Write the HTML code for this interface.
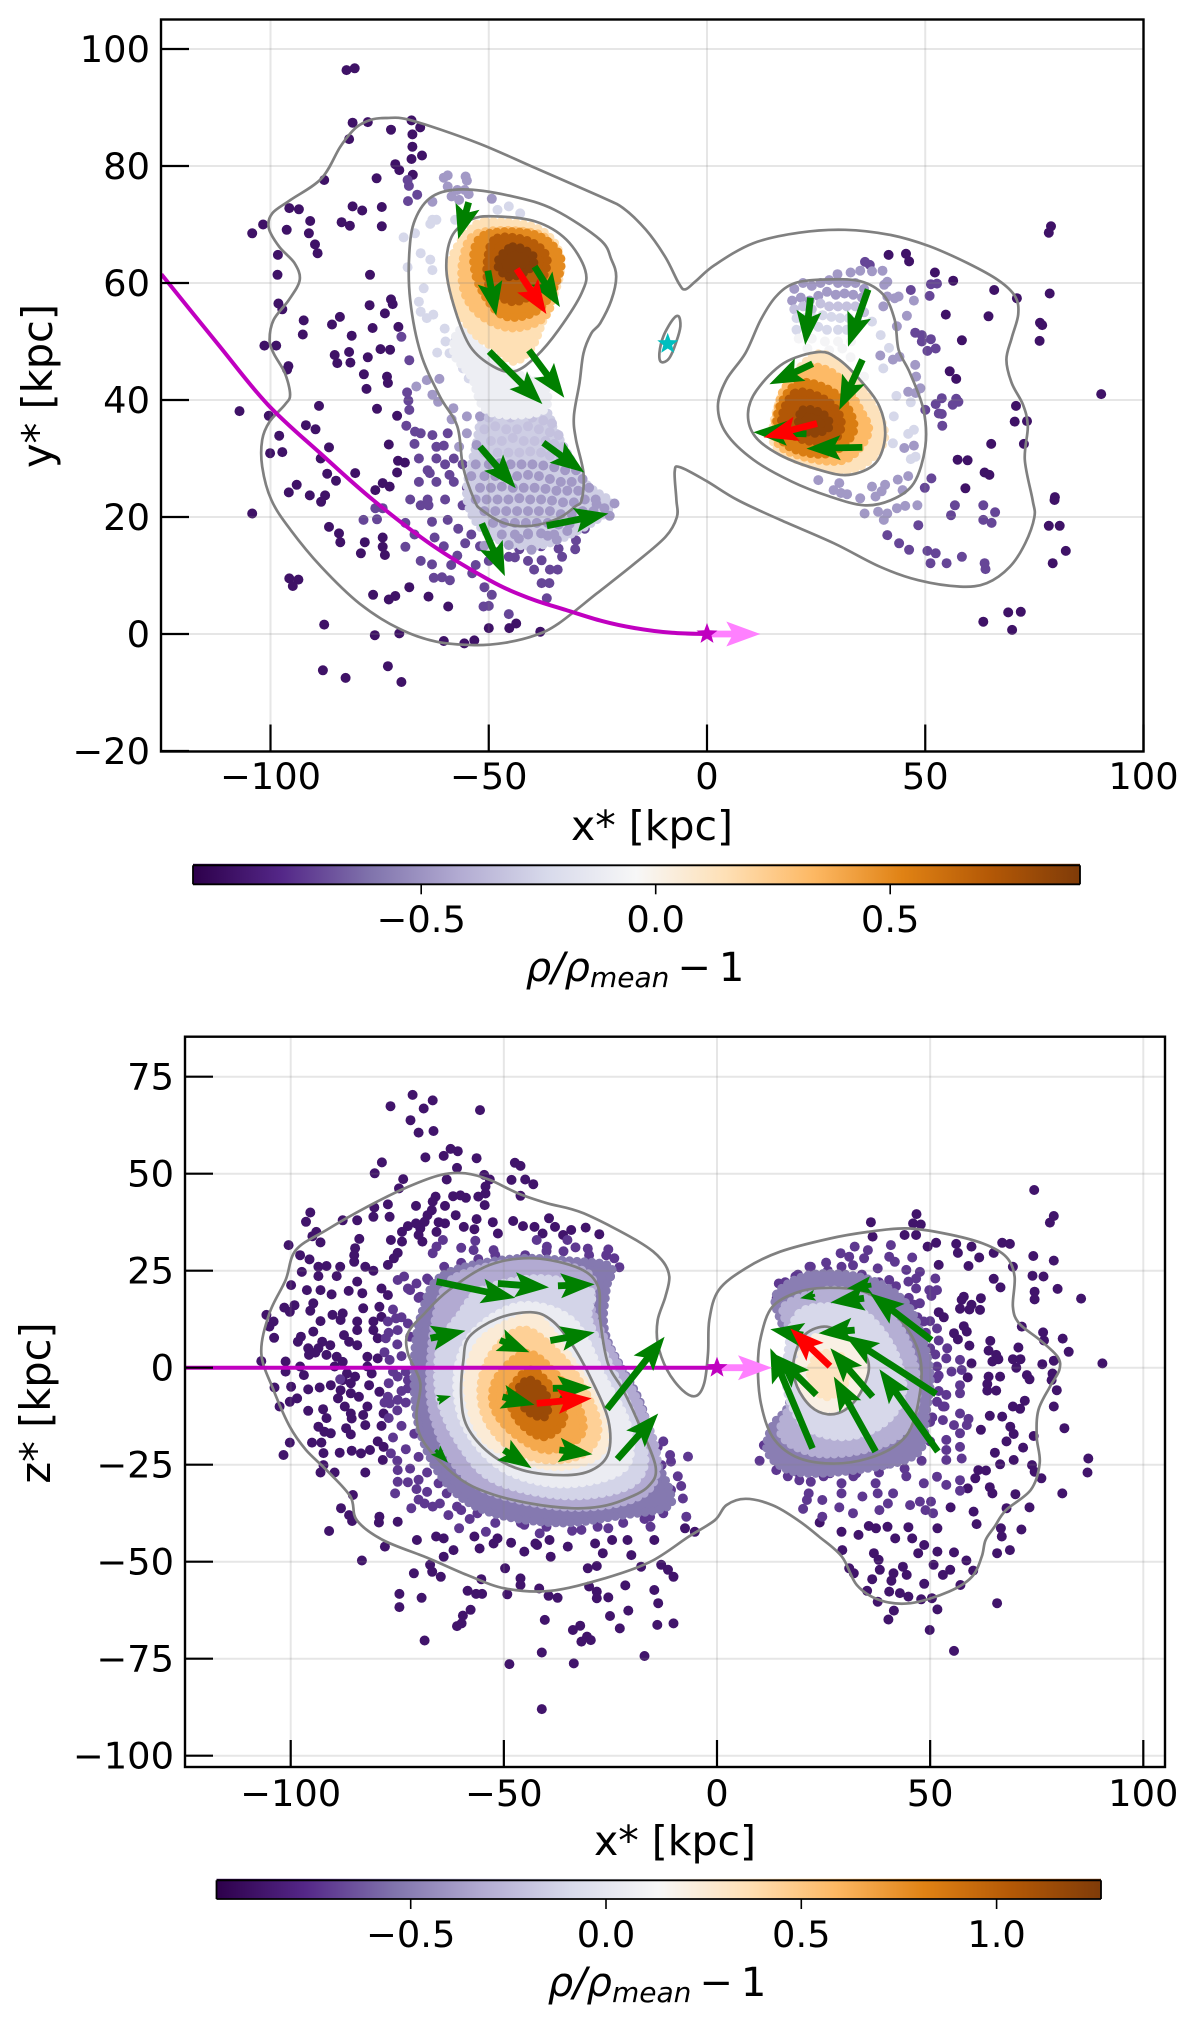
<!DOCTYPE html>
<html lang="en"><head><meta charset="utf-8"><title>Density maps</title>
<style>html,body{margin:0;padding:0;background:#fff}svg{display:block}text{font-family:"DejaVu Sans","Liberation Sans",sans-serif;fill:#000}</style></head>
<body><svg id="fig" xmlns="http://www.w3.org/2000/svg" width="1200" height="2028" viewBox="0 0 1200 2028">
<defs><linearGradient id="puor"><stop offset="0" stop-color="#2d004b"/><stop offset=".1" stop-color="#542788"/><stop offset=".2" stop-color="#8073ac"/><stop offset=".3" stop-color="#b2abd2"/><stop offset=".4" stop-color="#d8daeb"/><stop offset=".5" stop-color="#f7f7f7"/><stop offset=".6" stop-color="#fee0b6"/><stop offset=".7" stop-color="#fdb863"/><stop offset=".8" stop-color="#e08214"/><stop offset=".9" stop-color="#b35806"/><stop offset="1" stop-color="#7f3b08"/></linearGradient></defs>
</svg>
<script>
const xTicks=[-100,-50,0,50,100];
const topYTicks=[-20,0,20,40,60,80,100];
const bottomYTicks=[-100,-75,-50,-25,0,25,50,75];
const topColorTicks=[-0.5,0,0.5];
const bottomColorTicks=[-0.5,0,0.5,1];
const topColorRange=[-0.987,0.905];
const bottomColorRange=[-0.997,1.267];
const colorStops=[[45,0,75],[84,39,136],[128,115,172],[178,171,210],[216,218,235],[247,247,247],[254,224,182],[253,184,99],[224,130,20],[179,88,6],[127,59,8]];

const topOuterContour=[-73.4,88.2,-67.7,87.8,-52.4,83.9,-39.2,79.6,-24.5,74.8,-19.2,72.8,-14,69.1,-9.6,64.5,-6.5,60,-5,58.9,-2.6,60.3,1.8,63.1,10.6,66.8,21.1,68.6,31.6,69.1,42.1,68.2,50.9,66.3,59.7,63.4,66.7,60.5,70.6,57.7,71.3,54.6,69.8,50.6,68.6,46.9,69.8,42.9,72.4,39.2,73.5,35.5,72.8,29.8,74.6,22.9,75,20,72.9,15.5,69.4,11.5,64.1,8.7,58,8.1,48.4,9.2,39.6,11.5,29.1,15.5,16.8,19.5,7,22.9,0,26.1,-6.1,28.5,-7.4,27.8,-7,22.9,-6.9,20,-9.5,16.6,-16.5,12.1,-25.3,6.9,-34,1.8,-39.3,-0.2,-46.3,-1.5,-53.3,-1.9,-62.1,-1.3,-70.8,1,-79.6,5.2,-88.4,11.5,-95.4,17.8,-99.8,22.9,-101.9,28.6,-101.9,33.2,-100.2,36.3,-96.7,39.2,-95.5,40.9,-96.7,44.6,-99.3,48,-100.2,50.3,-99.3,53.7,-95.8,57.1,-93.3,60.5,-94.5,63.4,-98,66.2,-100.4,69.4,-99.6,71.9,-95.4,74.2,-88.3,77.9,-84,83.3,-80.5,86.5,-77,87.9];
const topMidLeftContour=[-55.9,76,-44.5,74.8,-34.9,72.5,-24.5,67.4,-21.9,64,-20.8,61.1,-21.9,57.1,-24.5,53.1,-26.5,51.4,-28.3,48,-29.2,42.9,-30.5,37.2,-30,33.2,-28.3,27.5,-28.7,22.9,-30.2,21.8,-34,19.8,-40.2,18.5,-46.3,18.9,-51.6,21.2,-53.3,22.9,-55.9,28.6,-57.2,35.5,-61.2,40.6,-65.6,48,-68,57.1,-68.2,65.1,-66.9,70.8,-62.9,74.8];
const topInnerLeftContour=[-48.9,71.4,-39.2,70.5,-32.2,67.4,-27.9,62.2,-28.7,58.3,-34,52,-39.2,47.4,-44.1,44.9,-48.9,45.7,-54.2,49.1,-57.7,55.4,-59.7,62.2,-58.5,67.9,-54.2,70.8];
const topMidRightContour=[27.2,60.6,35.1,60.3,40.4,58,43,53.7,43.9,48.6,46.5,44.6,49.6,38.3,50,32,47.4,25.8,42.2,22.9,36,22,28.1,23.5,19.3,26.1,10.6,29.8,4.4,34.3,2.5,38.9,4.4,43.4,8.8,48,12.3,53.7,15.8,57.7,20.2,60];
const topInnerRightContour=[25.5,48.2,29.9,47.1,35.1,43.4,39.5,38.9,40.8,33.8,38.6,29.2,32.5,27.2,25.5,28.1,16.7,30.6,11,33.8,9.4,37.7,11.4,41.7,17.6,46.3];
const topSmallContour=[-6.5,54.3,-7.8,53.8,-10,50.9,-10.9,48,-10.5,46.5,-8.7,47.1,-7,50,-6.1,52.6];

const bottomOuterContour=[-59,50.1,-53.3,48.4,-46.6,44.9,-39.9,42.4,-31.3,39.8,-18.4,32.5,-13,27.8,-11.2,23.5,-12.1,18.3,-13.9,12.3,-13.9,6.3,-11.7,-0.6,-8.1,-5.8,-5,-7.3,-3,-4,-2.1,3.7,-1.8,12.3,0.4,20,6.7,25.6,14.8,29.9,26.5,33.3,35.4,35,44.4,35.9,53.4,34.6,62.4,32,67.8,28.6,69.8,23.5,69.4,15.7,70.9,11.4,75.8,7.1,79.9,2.8,80.3,-0.6,78.1,-4.9,75.4,-10.9,75,-17.8,75.7,-24.6,73.6,-31.5,67.8,-36.7,65.1,-41,63,-44.4,62.1,-48.7,59.8,-53.9,54.4,-57.7,45.4,-60.7,38.2,-59.9,32.8,-56,29.3,-48.7,23.9,-43.5,19,-39.3,13,-35.4,6.7,-33.8,2.2,-35.4,-0.5,-39.3,-6.6,-43.5,-15.6,-50,-26.4,-54.3,-39,-57.5,-49.7,-56.9,-58.7,-53.4,-67.7,-49.1,-78.4,-44.4,-84.5,-39.3,-86,-33.2,-91.6,-26.4,-96.4,-21.2,-100.2,-15.2,-104,-5.8,-106.9,3.7,-105,14,-101.2,22.6,-98.8,30.3,-91.6,35.5,-82,41.5,-72.5,46.6,-64.8,49.7];
const bottomMidLeftContour=[-42.8,28.2,-32.3,25.6,-27.9,20.9,-27.4,12.3,-25.6,1.1,-22,-5.8,-18.4,-14.3,-14.4,-25.5,-16.2,-30.7,-22,-34.1,-27.4,-35.8,-34.2,-36.2,-43.7,-35,-53.3,-32.4,-61,-28.1,-68.6,-19.5,-70.5,-12.6,-69.6,-4,-72.5,3.7,-72.5,8.9,-68.6,14,-62.9,20,-53.3,26.5];
const bottomInnerLeftContour=[-43.7,14.3,-38.9,12.3,-34.2,6.3,-29.4,-3.2,-25.5,-13.5,-25.5,-22.1,-29.4,-26.4,-36,-27.7,-45.7,-26.4,-53.3,-22.1,-58.6,-15.2,-60,-7.5,-59.5,1.9,-58.1,8,-51.4,12.7];
const bottomMidRightContour=[26.5,20.6,34.5,19.6,40.8,14.9,46.2,7.1,48,-1.5,46.2,-13.5,42.6,-19.5,35.4,-23.4,26.5,-24.7,18.4,-22.9,13,-17.8,10.3,-9.2,9.6,0.3,10.3,8,13,15.7,19.3,19.6];
const bottomInnerRightContour=[25.1,10.6,30,8.4,34.5,3.7,35.6,-0.6,33.6,-6.6,30,-10.9,26,-12,22,-10,18.8,-4.9,17.9,1.1,20.2,8];

const topDarkDots=[-82.6,96.4,-80.7,96.7,-81.2,87.4,-77.7,87.5,-72.4,86.2,-67.7,87.8,-65.7,86.6,-67.5,85.4,-82,84.6,-67.5,83.3,-67.7,81.2,-65.3,81.8,-71.4,80.3,-70.5,79.3,-67.4,78.5,-75.7,77.9,-87.7,77.6,-81.2,73.1,-79,72.4,-74.5,73,-95.7,72.8,-93.5,72.6,-90.9,70.6,-83.7,70.4,-81.8,69.8,-74.5,69.7,-101.7,70,-104.2,68.5,-96.3,69.1,-91.2,68.5,-89.8,66.6,-89.2,65.1,-98.3,64.8,-98.4,61.4,-77.2,61.4,-98.2,56.5,-97.3,55.5,-77.3,56.2,-72.4,57.2,-72,56.4,-73.8,54.8,-92.4,53.6,-84.1,54.2,-85.9,52.9,-92.6,51.2,-76.6,52.3,-70.7,52.5,-81.4,51,-101.4,49.3,-98.7,49.3,-74.8,48.7,-72.6,48.6,-82,48.2,-85.3,47.7,-77.7,47.3,-84.7,46.3,-81.7,46.4,-95.9,45.8,-96.2,45.2,-78.6,44.4,-73.3,44,-73.1,42.9,-78,41.9,-107.1,38.1,-88.9,39,-75.6,38.5,-100.4,37.3,-71,37.3,-91.9,35.7,-89.7,35,-98,33.9,-72.9,32.4,-86.6,31.9,-100.1,30.9,-97.3,31.1,-88.5,30,-70.8,29.6,-69.2,29.3,-80.6,27.5,-71,27.6,-87,27.4,-85,26.2,-74.3,25.8,-72.7,25.2,-94,25.5,-95.8,24.2,-91,23.7,-87.5,23.7,-76,24.6,-104.2,20.6,-88.4,22.6,-86.6,18.3,-84.3,17.2,-84,15.7,-79.3,13.8,-78.4,15.7,-74.3,16.5,-74.3,14.9,-73.8,13.5,-95.7,9.5,-93.6,9.3,-94.9,8.2,-87.7,1.6,-76.1,-0.2,-70.5,0.1,-60.3,-1.2,-55.6,-1.6,-53.3,-1.1,-88,-6.2,-82.8,-7.5,-73.1,-5.5,-70,-8.2,-76.5,6.7,-71.4,6.5,-72.9,5.9,-68.2,8,-63.8,6.4,-59.3,4.7,-45.3,1,-50,1,-38.2,0.4,-43.7,1.8,78.8,69.7,78.3,68.6,41.6,64.8,45.6,65,46.3,63.7,52.2,61.8,56.4,60.4,65.8,58.8,71,57.4,78.5,58.2,54.7,54.6,64.5,54.3,76.3,53.2,76.8,52.8,58.4,50.2,76.2,50.1,55.6,44.9,57.1,43.6,90.3,41,70.8,39,70.5,36.3,73.3,36.4,65.1,32.5,72.6,32.5,57.4,29.8,59.7,29.7,63.6,27.6,64.7,27.2,59.2,24.9,79.7,23.4,79.6,22.9,78.3,18.5,80.8,18.5,82.2,14.2,79.2,12.1,63.3,2.1,69,3.7,71.9,3.8,69.9,0.7];
const topMidDots=[-68.7,41.3,-68.4,39.9,-68.2,38.3,-68.9,35.6,-66.9,34.6,-65.6,34.3,-67,32.5,-62.9,34,-59.4,34.3,-62,32,-60.3,32.2,-63.5,27.5,-59,27.2,-76,21.5,-74.3,21.5,-78.7,19.5,-75.6,19.6,-69.1,19,-65.6,22,-63.8,22,-63,19.2,-59.4,19.5,-62.4,16.5,-60.3,15,-55.4,15.5,-57.2,13.4,-69.1,14.9,-65.6,12.5,-63,11.9,-58.6,11.8,-53,11.8,-53.8,10.4,-62.6,9.6,-60.7,9.7,-58.9,9.2,-51.2,4.7,-50,4.8,-51,8,-49.3,6.7,-45.4,3.4,-36.7,6.1,-37.9,8.7,-36.1,8.7,-34.2,11,-39.6,11,-37.9,12.6,-33.2,13.2,-30.2,14.5,-44,13.1,-45.4,13.2,-34,14.6,-68.2,46.8,-70,50.8,-66.4,75.1,-68.5,74,-68.6,77.6,-68.3,76.6,47.7,51.5,49.2,51.1,49.2,50,51.3,50.4,50.5,48.4,52.4,48.8,51.3,59.8,52.7,59.9,51,57.8,46.7,58.8,53.8,40.3,57.1,40.2,52.4,39.3,56.3,39.2,57.6,39.7,50,38.3,53.1,37.7,53.8,37.6,53.9,35.6,51.4,26.6,49.9,25,56.8,22,55.9,20.3,63.3,22,66,20.8,63.3,19.5,65.2,19,48.4,18.6,41.3,16.9,44,15.5,46.3,14.4,50.5,14.2,52.4,13.8,58.4,13.2,51.2,12.1,54.9,12.1,63.6,12.1,63.8,11.1,36.2,63.6,37.3,63.1,-66,30,-64,28,-62,30,-60,29,-58,30,-56,29,-66,26,-62,26,-58,26,-55,25,-68,23,-64,23,-60,23,-56,22,-67,17,-57,18,-54,17,-52,15,-48,14,-43,14.5,-38,15,-30,16,-28,18,-50,12.5,-41,12.5,-36,11];
const topLavDots=[-60.3,78,-59.4,78.4,-55.3,78.2,-55,77.5,-59.4,76.5,-57.2,75.9,-58.5,74.8,-56.8,74.2,-55.5,75.9,-54.6,75.2,-64.2,43.4,-61.3,43.6,-66.6,42.3,-62.9,40.9,-61.6,39.7,-58.1,38.6,-58.5,36.7,-55,37.2,-52,37.2,-55,34.3,-56.8,32,-52.8,32.3,-36.5,16.8,-34.4,16.1,-32,17.6,-25.3,22.2,-21.2,22.3,-22.3,20.2,-51,15.1,-45.4,15.2,-43.1,16.3,-41,17.2,-40.2,14.4,35.1,62.1,37.8,62,40.2,62.1,32.9,61.8,29.9,61.5,41.3,60.2,40.6,59.7,47.4,57,43,57.4,41.3,57.7,43.9,57.7,40.4,56,45.8,54.4,43.5,52.6,39.7,47.6,42.6,46.9,44.1,47.4,47.7,46,47.9,44,48.9,42,46.1,41.4,47.8,41.2,45.2,31.8,47.4,32.2,46.1,27,43.7,26.4,36.1,20.6,39.2,20.9,41.3,20.6,40.5,19.5,43.5,21.5,45.4,21.9,48.2,22,25.5,26.3,29,24.6,30.7,24.1,32.1,23.9,30.3,25.8,35.1,23.2,37.8,25.2,38.6,23.5,40,24.4,40.8,25.5,44.8,24.6,-62.9,73.9,-49.3,74.4,-53,29,-50,29,-47.5,29.2,-45,29,-42.5,29,-40,29,-37.5,28.8,-35,28.5,-32.5,28,-30,28,-54,27,-51,27,-48.5,27,-46,27,-43.5,27,-41,27.2,-38.5,27,-36,26.5,-33.5,26,-31,26,-28.5,26.5,-52,25,-49.5,25,-47,25.2,-44.5,25,-42,25,-39.5,25,-37,24.8,-34.5,24.5,-32,24.5,-29.5,24.5,-27,25,-53,23,-50.5,23,-48,23,-45.5,23,-43,23.2,-40.5,23,-38,23,-35.5,22.8,-33,22.5,-30.5,22.5,-28,23,-25.5,23,-51,21,-48.5,21,-46,21,-43.5,21,-41,21,-38.5,21,-36,21,-33.5,20.5,-31,20.5,-28.5,21,-26,21,-23.5,21.5,-49,19,-46.5,19,-44,19,-41.5,19,-39,19,-36.5,19,-34,18.7,-31.5,18.8,-47,17,-44,17,-41,17,-38,17.2,-35,17,20,59,22,60,24,59.5,26,60,28,60.5,30,60,32,60,34,60,36,59,19.5,57,21.5,57.5,23.5,57,25.5,57.8,27.5,58.5,29.5,58,31.5,58.2,33.5,58,35.5,57.5];
const topPaleLavDots=[-50,37,-47.5,37.5,-45,37,-42.5,37.5,-40,37,-37.5,36.5,-35.5,36,-51,35,-48.5,35.5,-46,35,-43.5,35,-41,35.5,-38.5,35,-36,34.5,-34,34,-49.5,33,-47,33,-44.5,33.5,-42,33,-39.5,33,-37,33,-35,32.5,-33,32,-51,31,-48,31,-45.5,31,-43,31,-40.5,31.2,-38,31,-36,30.5,-33.5,30,-31.5,30,20,55.5,22,56,24,55.5,26,56.5,28,56,30,56,32,56,34,56,36,55];
const topLightDots=[-68.6,62.7,-69.5,67.8,-66.9,68.5,-65.6,65.1,-63.4,64,-62.9,62.2,-64.9,59.1,-66,56.8,-65.6,55.1,-64.2,54,-62.7,54.6,-60.1,52.2,-59.9,50,-57.7,50,-61.8,48.1,-59,48,-55.5,47.4,-55.9,45.4,-54.6,43.7,-52.8,43.2,-51.5,40.6,-62.9,70.8,-63.4,70.1,-62,70.8,-57.7,70.8,-45.4,73.1,-48,72.5,-42.8,71.9,43.4,40.7,46.7,39.6,42.8,37.2,47.4,34.9,46.1,34.2,42.6,32.6,47.8,30.3,46.7,29.9,37.8,53.4,39.8,51.1,41.7,48.9,40.4,45.4,20.5,54,22.5,54,24.5,54,26.5,54.5,28.5,54.2,30.5,54,32.5,54,34.5,53.5,20.5,52,23,52.3,25.5,52.5,27.5,52,30,52,32,52,34,52];
const topPaleDots=[21,50.5,24,50.5,27,50,30,50,33,50,23,48.8,28,48.5,31,48.8,32.9,47.3,36,44];
const topBandB=[-50,38,-37.4,38,-35,35,-28,26,-22,22,-30,17.5,-40,15,-50,17,-55,23,-53,32];
const topBandC=[-56,52,-48,46,-42,44,-37,42,-38,38,-50,38,-54,44,-58,48];
const topLeftCoreA=[-50.6,70.5,-40.1,69.7,-34.9,66.8,-33.5,62.8,-34.9,58.3,-37.5,53.7,-40.1,49.1,-44.1,46.6,-48,48.6,-53.3,51.4,-57.2,56,-59,62.2,-57.2,66.2,-54.2,69.1];
const topLeftCoreB=[-52.4,68.5,-39.2,68.5,-34.9,65.1,-34.9,60,-37.1,54.3,-44.5,52.3,-51.5,54.3,-55.5,58.3,-55.9,64];
const topLeftCoreC=[-49.8,68.5,-39.2,68.2,-33.5,64.2,-35.7,58.3,-40.1,54.8,-47.1,54.6,-52.4,60,-53.3,65.7];
const topLeftCoreD=[-48,67.7,-40.6,67.1,-36.6,64,-39.2,58.8,-44.5,56.8,-49.8,59.4,-50.2,64.5];
const topLeftCoreE=[-44.5,66.2,-39.7,64.5,-41,62.2,-45.4,61.1,-48,63.4];
const topRightCoreA=[25.5,47.9,29.9,46.3,35.1,42.3,40.4,35.5,39.5,31.5,33.4,28.1,25.5,28.6,17.6,30.9,15,33.8,16.7,40,20.2,44.6];
const topRightCoreB=[23.7,45.7,29.9,44,35.1,38.3,36.9,34.3,31.6,29.8,22,30.3,15.8,33.2,16.7,40,19.3,43.4];
const topRightCoreC=[21.1,42.9,28.1,41.7,32.5,38.3,33.4,34.3,28.1,30.9,20.2,31.5,16.3,34.3,16.7,38.9];
const topRightCoreD=[20.2,41.2,27.2,40,30.7,36.6,29,33.2,22,33.2,17.1,36.1];
const topRightCoreE=[22,38.3,26.4,37.7,28.1,35.5,24.6,34.3,21.1,35.5];

const bottomDarkDots=[-71.4,70.3,-66.7,68.9,-76.6,67.4,-68.8,66.8,-55.6,66.4,-71.9,63.8,-70,60.6,-66.5,61,-62.5,56.4,-60.8,55.8,-64.1,54.6,-68.4,54.2,-56.4,54,-78.6,52.9,-80.3,50.1,-61,51.5,-47.4,52.8,-46.1,52,-54.6,49.7,-63.4,48.5,-53.3,48.5,-48.2,48.4,-45,48.5,-43.1,47.3,-73.6,48.6,-74.6,46.2,-54.3,46.7,-54.3,44.9,-61.9,44.2,-60.2,44.4,-58.9,43.8,-56,44.1,-66,44.1,-66.7,42.8,-46.1,44.3,-54.5,41.9,-77.2,42.1,-80.4,41.3,-70.6,41.7,-63.8,41.7,-66.9,40.6,-67.9,39.3,-95.4,40,-76.8,38.9,-80.6,38.9,-61.3,39.3,-96.4,37.6,-87.8,38,-84.4,38,-56.4,38.3,-52.6,37.5,-47.8,37.8,-39.4,38.5,-70.6,37.2,-68.6,37.6,-65.3,37.5,-63.8,37.2,-72.5,36.5,-69.6,35.9,-59.4,36.3,-45.5,36.5,-42.8,36.3,-38,36.3,-30.8,36.1,-56.9,35.7,-94,35,-94.9,33.9,-73.9,35,-70,34.2,-65.8,35,-51.4,34.6,-40.9,34.6,-36.1,34.2,-34.2,35.5,-27.6,34.4,-83.9,33.2,-76.5,32.9,-93,32.3,-73.9,32.5,-69.1,32.5,-100.5,31.6,-84.9,30.8,-74.9,29.6,-97.8,29,-85.1,29,-75.8,28.2,-77.2,26.5,-95.6,27.9,-85.1,27.3,-93.5,26,-91.6,26.2,-88.4,26,-82.5,26,-80.6,25,-97.4,24.7,-89.2,23.6,-93.5,23.6,-84.4,22.2,-99.9,21.3,-96.2,20,-93,20,-86.4,19.8,-83.2,19.2,-90.4,18.9,-77.2,18.7,-78.7,20.4,-94.7,16.6,-101.5,15.5,-99.1,16.1,-100.2,14.4,-95.4,14.7,-105.7,13.6,-83,15.3,-79.2,15.7,-78.7,13.1,-90.2,13.6,-87.8,14,-88.3,12.3,-93,12,-84.4,11.9,-104,11.9,-105,10.6,-84.4,9.7,-94.7,9.3,-80.6,11.9,-80.6,9.7,-79.6,7.6,-103.9,7.7,-97.6,8,-98.3,6.7,-87.5,8.4,-86.3,6.7,-84.4,5.8,-92.6,6.7,-90.7,5.8,-93.5,5,-95.9,5,-95.7,3.3,-94.2,3.9,-91.6,3.3,-89.2,2.8,-87.8,1.5,-82,2.8,-79.6,2.4,-106.9,1.7,-101.2,1.6,-97.8,0.3,-96.9,-1.9,-101.2,-1,-89.7,0.3,-86.8,-1.5,-82,0.3,-81,-1.5,-84.9,-2.3,-87.8,-3.2,-81.6,-4.5,-103.8,-5.1,-99.9,-4.9,-95.9,-5.6,-93.2,-5.1,-90.6,-4.5,-85.9,-4,-88.3,-5.8,-85.9,-6.6,-84,-7.5,-79.2,-6.2,-98.5,-7.9,-100.2,-8.8,-88.9,-7.9,-102.6,-10,-87.3,-10,-82,-10,-95.9,-11.1,-92.4,-10.7,-85.9,-11.8,-83,-12.2,-78.2,-11.8,-91.6,-13,-85.7,-13.1,-82.5,-14.8,-78.7,-15,-93.5,-15.2,-87,-15.6,-92.1,-16.5,-90.6,-16.9,-85.9,-17.2,-100.2,-19.3,-95,-19.3,-92.8,-19.3,-79.6,-19,-78.2,-20.4,-81.4,-21.2,-85.7,-21.4,-88.5,-21.9,-92.3,-22,-101.7,-22.5,-83.5,-22.1,-78.4,-23.8,-92.3,-25.1,-89.7,-27,-93,-27,-82.5,-27,-85.4,-32.8,-88.2,-36.2,-86.3,-38,-79.2,-38.4,-91,-42.1,-83.3,-49.7,-77.9,-46.1,-85.6,-39.5,-79.3,-39.9,-74.9,-39.7,-70.4,-44.4,-65.9,-43.5,-64.1,-44,-64.1,-48.7,-61.8,-47,-71.1,-53,-67.3,-50.8,-66.8,-52.6,-64.8,-53.9,-55.3,-54.5,-58.5,-57.5,-56.5,-58.3,-55.1,-58.3,-74.5,-58.3,-69.3,-59.3,-74.5,-61.7,-59.6,-63.9,-57.8,-62.4,-61,-66.6,-59.9,-65.9,-68.6,-70.3,-49.2,-58.4,-49.7,-51.7,-46.1,-54.3,-46.1,-56,-41.7,-56.9,-39.5,-58.8,-37.4,-59.3,-40.4,-65,-25.1,-64,-20.8,-62.6,-22.8,-67.2,-13.8,-60.7,-14.7,-57.3,-21.5,-56.1,-30,-56.4,-28.2,-57.7,-28.2,-59.4,-25.5,-59.2,-32.1,-66.5,-33.8,-67.6,-30.5,-69.3,-29.6,-70.2,-31.8,-70.6,-14,-66.3,-10.2,-65.9,-41.1,-73.4,-33.6,-76.2,-48.7,-76.4,-17,-74.3,-41.1,-88,-13.1,-50.8,-11.5,-52.1,-10.2,-53.9,-17.8,-51.3,-30.3,-51.7,-28.2,-51.1,-45.2,-47.4,-42.2,-45.7,-39,-48.7,-35,-46.1,-26.8,-47.8,-20.1,-48.3,-24.6,-44.4,-21,-44.4,-14.7,-44.4,-7.5,-41.4,-5.2,-42.3,-28.6,-45.3,-48.3,-45.1,-52.4,-45.3,-55.7,-46.6,-51.5,-44,-56.9,-43.5,-42.6,-45.3,-39.3,-44.4,41.8,-44,45.8,-44,48.6,-45.7,51.7,-41.4,60.9,-40.3,29.4,-47,36.8,-47.8,37.9,-49.5,47.2,-47.8,51.7,-47.4,55.6,-47.6,58.5,-49.7,66.6,-41.4,66.8,-43.5,71.4,-41.7,65.7,-47.8,68.7,-47,31,-51.7,32.1,-53,38.2,-52.1,36.4,-54.5,41.4,-53,43.6,-51.3,44.5,-53.4,40.9,-54.9,48.6,-55.7,50.8,-50.8,54.7,-52.1,53,-53.4,60.1,-52.3,57.1,-56,35.2,-57.5,40.4,-57.7,42.9,-58.1,44.9,-59,47.9,-59.7,50.4,-59.4,37.7,-60.3,41.5,-62.6,40.2,-64.9,51.7,-62.3,65.7,-60.7,49.9,-67.6,55.6,-73,74.4,45.8,79,39.1,78.1,37.4,46.8,39.6,36.1,37.5,46,37.2,47.8,36.9,36.5,33.8,44,34.2,46.7,34.2,51.4,32.2,49.4,31.2,66.9,32.2,68.7,31.9,56.1,31.9,59.7,31.2,56.5,29.6,64.9,29.6,74.2,28.8,79,27.6,61.5,28.4,52,26.5,59,26.2,69.4,26,74,23.7,76.6,23.5,64.9,22.9,66.5,20.7,79.9,20.3,74.5,19.6,74.5,17.6,85.4,17.8,57.9,18.3,61.9,17.9,57.4,17.5,59.7,16.2,57,15.2,59.2,15,61.7,14.9,52,14.3,53.2,13,57.9,10.7,71.5,10.6,55.6,8.9,58.6,9.3,56.5,7.3,76.5,9.1,76.7,7,81.1,7.5,64.1,6.9,59.2,5.7,70.7,5.2,82.5,4.1,63.7,4.4,65.5,3.3,64.6,1.6,66,2.2,69.4,2.2,71.2,2.2,90.4,1.1,59.7,1.1,76.3,0.9,79,1.8,70.2,0,58.8,-2.5,72.7,-1.9,73.3,-3,63.7,-2.3,66.4,-2.3,78.7,-1.5,78.5,-3.2,63.4,-4.2,63.4,-5.9,65.5,-5.9,79.7,-5.8,72.2,-8.5,69.4,-10,71.1,-10.6,79,-10,64,-12.4,66.9,-12.6,68.8,-15.2,81.5,-15.6,61.9,-16,69.6,-17.1,74.3,-17.6,67.9,-19,71.8,-20.6,65.2,-21.9,87.1,-23.4,69.6,-23.8,66.4,-24.9,73.9,-25.1,86.9,-27,74.5,-26.8,61.3,-26.4,63.1,-26.5,76.1,-28.5,60.6,-28.5,64,-30.8,58.8,-31.1,64.6,-32.4,70,-32.6,81,-32.4,73.3,-36,67.9,-36.2,60.2,-37.1,54.8,-36,24.1,-39.9,29.2,-42.3,33.2,-43.1,35.6,-40.8,37.3,-41.4,40,-41,44.9,-41.1];
const bottomMidDots=[-60.5,-41.4,-54.2,-42.3,-45.2,-40.5,-41.6,-42.7,-31.8,-41.8,-25.5,-41.4,-15.6,-41,-88.4,-3,-72.5,-3.2,-74.9,-2.3,-76.8,2,-72.5,-5.3,-77.2,-7.5,-74.9,-8.3,-76.8,-9.2,-76.5,-22.1,-74.9,-26.4,-74.9,-29.4,-72.5,-29.5,-70,-28.9,-75.5,-32.4,-70.5,-31.3,-71.7,-36.2,-68.6,-35,-66.7,-35.8,-61,-35.8,-56.2,-37.5,-65.3,-29.8,-63.4,-32.4,-60,-36.7,-53.3,-36.7,-48.5,-37.5,-42.8,-37.1,-37,-38.4,-30.3,-38.4,-24.6,-37.5,-19.8,-36.7,-74.9,22.6,-73.4,23.5,-72.5,20.4,-70.5,21.7,-67.7,22.6,-69.6,18.3,-77.2,11.9,-75.3,12.7,-72.5,11.4,-74.9,9.7,-77.7,7.6,-65.8,31.2,-60,30.9,-57.1,30.3,-52.4,30.3,-39.9,31.2,-33.2,31,-30.3,30.7,-25.5,30.5,-66.7,29.5,-24.1,28.2,-22.9,25.9,-25.1,23.5,-64.3,32.9,-56.7,32.7,-42.3,32.9,-35.1,32.9,-12.6,-19,-13.9,-20.4,-11,-22.5,-10.8,-24.2,-6.8,-22.9,-13,-25.1,-9.2,-28,-8.4,-30.5,-8,-33.7,-10.8,-31.5,-13,-33.2,-12.1,-35.4,-15.7,-38.4,-7.2,-38.4,-12.6,-37.5,-22,-37.5,-19.8,-36.7,-16.6,-34.5,35.4,30.3,40.8,31.6,32.3,31.2,29,29.5,31,28.6,34.5,28.2,40.4,28.6,45.8,28.4,29.2,26,31.9,26.4,25.6,27.1,21.7,26,37.7,25.6,41.7,27.3,44.4,25.2,47.6,24.7,51.2,23,18.4,23.5,14.5,21.7,40.4,22.6,44.9,22.2,46.7,23,49.8,20,51.6,20,46.7,20.4,50.3,18.5,47.6,16.6,46.2,16.2,48.5,11.9,51.6,10.1,51.2,3.4,53.8,2.4,51.6,0.3,57.4,-0.6,51.6,-2.7,57,-4.5,53.8,-7,57,-6.6,51.6,-8.8,53.4,-10,57,-11.8,50.5,-12.8,53,-13.5,59,-13.2,55.6,-14.8,58.6,-14.8,57,-16.9,53.8,-18.6,57,-20.4,53.8,-21.2,57.4,-23.4,53.8,-23.8,51.6,-28.1,57,-29,53.8,-30.2,57,-31.7,13.9,-26.4,16.6,-28,19.3,-29,22,-29.4,26.5,-27.2,29.2,-29.8,32.7,-27.2,37.2,-29.8,39.9,-24.7,44.4,-28,48.5,-29.8,21.5,-32.4,21.1,-34.1,24.7,-34.1,29.2,-32.4,34.1,-33.2,37.7,-32.4,41.3,-32.4,20.2,-36.4,28.7,-36,31.9,-37.5,38.1,-36.7,40.1,-35,45.3,-35.4,47.6,-34.5,50.2,-34.5,24.7,-38.4,48.9,-36.7,50.7,-37.5,-76,15,-74,13,-77,9,-75,6,-72,8,-78,4,-74,3,-76,-1,-73,-1,-77,-4,-74,-6,-78,-9,-75,-11,-73,-9,-77,-13,-74,-15,-71,-17,-76,-18,-73,-21,-70,-23,-75,-24,-72,-26,-68,-27,-68,-32,-65,-35,-70,-34,-63,-38,-58,-39,-52,-40,-46,-40,-40,-41,-34,-42,-28,-41,-22,-40,-17,-39,-70,18,-72,20,-66,20,-68,23,-64,26,-60,27,-56,28,-52,29,-45,29,-40,30,-36,30,-30,29,-26,29,48,3,50,5,52,7,54,5,48,-3,52,-2,55,-1,57,2,49,-8,52,-6,50,-14,53,-10,47,-18,50,-19,48,-24,44,-26,38,-27,32,-28,25,-28,19,-27,14,-24,11,-20,10,-24,16,22,19,24,22,26,26,25,30,24,34,24,38,22,42,21,45,18,14,18,16,16,47,13,50,12,49,9];
const bottomLeftBandA=[-64,24,-48.5,28,-34,27.5,-25,26,-26,20,-26,8,-18,-9,-15,-22,-11,-32,-12,-36,-22,-38,-37,-40,-54,-37,-64,-29,-70,-15,-71,2,-69,15];
const bottomLeftBandB=[-61,23.5,-45.6,27.3,-30.3,24.3,-29.4,14.9,-24.6,3.7,-18,-10,-14,-24,-18,-33,-34,-36,-53,-32,-62,-24,-67,-10,-67,5,-65,17];
const bottomLeftBandC=[-55,20,-42,23,-30,20,-30,12,-24,-2,-19,-15,-17,-25,-22,-31,-36,-33,-52,-29,-60,-20,-65,-8,-65,5,-60,14];
const bottomLeftBandD=[-46,16,-34,12,-27,-2,-21,-15,-22,-26,-36,-30,-50,-26,-59,-15,-61,-2,-57,9];
const bottomLeftBandE=[-44.7,13.1,-39.9,10.6,-30.3,-4.9,-26.5,-15.2,-27.5,-22.1,-36,-25.5,-45.6,-23.8,-54.3,-18.6,-58.1,-9.2,-58.1,0.3,-54.3,8];
const bottomLeftBandF=[-44.7,9.7,-36,2,-30.3,-7.5,-27.9,-16,-31.3,-22.1,-39.9,-23.8,-48.5,-20.4,-54.3,-12.6,-55.2,-3.2,-51.4,5.4];
const bottomLeftBandG=[-44.7,3.7,-38,-1.5,-32.2,-10.9,-32.2,-17.8,-39.9,-21.2,-47.6,-16.9,-52.4,-10,-51.4,-2.3];
const bottomLeftBandH=[-43.7,-0.6,-38,-6.6,-36,-13.5,-40.8,-17.8,-46.6,-13.5,-48.5,-6.6];
const bottomLeftBandI=[-43.7,-3.2,-39.9,-7.5,-40.4,-12.6,-44.7,-10.9,-46.6,-5.8];
const bottomRightBandA=[14,19,22,24,35,23,44,17,48,8,50,-2,49,-12,47,-22,35,-26,19,-27,12,-22,13,-15,17,-9,18,5,15,12];
const bottomRightBandB=[16,16,26.5,20,37,17,44,8,47,-4.9,44,-16,35,-21,23,-22,15,-17,18,-7,18,5,17,10];
const bottomRightBandC=[19.3,14,28.3,15.7,35.4,13.2,41.7,3.7,43.5,-6.6,39,-14.3,30,-17.8,21.1,-15.2,16.6,-6.6,16.6,3.7];
const bottomRightBandD=[25.6,8.4,31,7.1,34.5,1.1,32.7,-6.6,26.5,-10.9,21.1,-7.5,19.3,0.3,21.1,6.3];
const bottomRightBandE=[25.6,3.7,30,2,30,-4,25.6,-7.5,22,-3.2,22.9,2];

const trajectoryX=[-125,-112,-100.6,-88,-76.5,-63,-49.8,-41,-32.3,-24,-16.5,-8,0];
const trajectoryY=[61.5,49.5,39.2,30.5,22.9,15.2,9.2,6.2,4.1,2.2,1,0.2,0];
const bottomTrajectoryX=[-125,0];
const bottomTrajectoryY=[0,0];
const topGreenTailX=[-54.6,-50.2,-39.5,-49.9,-40.8,-52,-37.5,-51.6,-36.7,23.7,36.9,24.2,35.6,22.8,35.6];
const topGreenTailY=[73.8,62.1,62.8,48.3,48.5,32,32.7,18.9,18.5,57.5,58.9,46.2,46.9,34.2,31.9];
const topGreenTipX=[-57,-48.3,-33.7,-37.7,-32.7,-43.8,-28.1,-46.3,-22.6,22.5,32.3,14.3,30.3,10.6,22.8];
const topGreenTipY=[67.5,54.4,55.9,39.3,40.4,24.9,27.6,9.9,20.6,49.4,49.1,42.7,38.3,34.5,31.7];
const topRedTailX=[-43.6,25.2];
const topRedTailY=[62.4,36];
const topRedTipX=[-36.8,13];
const topRedTipY=[54.7,33.6];
const bottomGreenTailX=[-65.8,-51.4,-37.3,-67.2,-39.1,-50.9,-50.3,-38.5,-65.6,-50,-37,-66,-25.8,-23.4,22.4,37.2,23.3,36.5,20.2,32.3,51.4,51.8,50.3,34.5,36.2,23];
const bottomGreenTailY=[22.2,21.7,21.1,7.6,7,7.1,-7.5,-5.3,-8.3,-21.2,-21.2,-21.2,-10.7,-23.6,-20.8,-21.6,-7,-7.5,8.4,9.7,-6.8,-21.6,7.1,17.9,21.3,18.7];
const bottomGreenTipX=[-47.3,-39.4,-28.7,-59,-28.7,-44,-42.8,-29.4,-62.4,-43.5,-29.2,-63.1,-12.3,-13.8,12.5,27.4,13.9,26.6,12.5,23.8,30,38.1,35.9,26.6,30.5,19.5];
const bottomGreenTipY=[18,20.7,21.5,9.5,9.1,4,-9.6,-5.1,-7.3,-25.9,-22.3,-24.5,8,-11.8,5,-2.3,3.3,5,9.9,8.9,8.4,-0.4,19.2,16.8,20.4,17.9];
const bottomRedTailX=[-42.3,26.5];
const bottomRedTailY=[-9.2,0.4];
const bottomRedTipX=[-29.4,17.2];
const bottomRedTipY=[-7.9,10.1];
const motionTailX=[0];
const motionTailY=[0];
const motionTipX=[12.2];
const motionTipY=[0];
const bottomMotionTipX=[12.9];
const cyanStarX=[-9];
const cyanStarY=[49.6];
const magentaStarX=[0];
const magentaStarY=[0];

const SVG='http://www.w3.org/2000/svg';
const fig=document.getElementById('fig');
function node(tag,attrs,parent){const e=document.createElementNS(SVG,tag);for(const k in attrs)e.setAttribute(k,attrs[k]);(parent||fig).appendChild(e);return e;}
function colormap(t){t=Math.max(0,Math.min(1,t))*10;const i=Math.min(9,Math.floor(t)),f=t-i,a=colorStops[i],b=colorStops[i+1];return 'rgb('+[0,1,2].map(k=>Math.round(a[k]+(b[k]-a[k])*f)).join(',')+')';}
function smooth(pts,closed){const n=pts.length;let d='M'+pts[0][0].toFixed(1)+' '+pts[0][1].toFixed(1);const g=i=>closed?pts[(i+n)%n]:pts[Math.max(0,Math.min(n-1,i))];for(let i=0;i<(closed?n:n-1);i++){const p0=g(i-1),p1=g(i),p2=g(i+1),p3=g(i+2);d+=' C'+(p1[0]+(p2[0]-p0[0])/6).toFixed(1)+' '+(p1[1]+(p2[1]-p0[1])/6).toFixed(1)+' '+(p2[0]-(p3[0]-p1[0])/6).toFixed(1)+' '+(p2[1]-(p3[1]-p1[1])/6).toFixed(1)+' '+p2[0].toFixed(1)+' '+p2[1].toFixed(1);}return d+(closed?'Z':'');}
function pairs(flat,sx,sy){const o=[];for(let i=0;i<flat.length;i+=2)o.push([sx(flat[i]),sy(flat[i+1])]);return o;}
function arrowPoly(x0,y0,x1,y1){const L=Math.hypot(x1-x0,y1-y0)||1,ux=(x1-x0)/L,uy=(y1-y0)/L,nx=-uy,ny=ux;const k=Math.min(1,L/34),w=3.4*k,hw=12.5*k,hl=34*k,ax=29*k;const p=(a,b)=>(x0+ux*a+nx*b).toFixed(1)+','+(y0+uy*a+ny*b).toFixed(1);return [p(0,-w),p(L-ax,-w),p(L-hl,-hw),p(L,0),p(L-hl,hw),p(L-ax,w),p(0,w)].join(' ');}
function starPoly(cx,cy,r){const o=[];for(let i=0;i<10;i++){const a=-Math.PI/2+i*Math.PI/5,q=i%2?r*.42:r;o.push((cx+q*Math.cos(a)).toFixed(1)+','+(cy+q*Math.sin(a)).toFixed(1));}return o.join(' ');}

function drawPanel(c){
 const sx=v=>c.x0+v*c.xs, sy=v=>c.y0-v*c.ys;
 const norm=v=>(v-c.range[0])/(c.range[1]-c.range[0]);
 c.layers.forEach(l=>{
  const col=colormap(norm(l.value));
  if(l.band){
   const pts=pairs(l.band,sx,sy);
   const el=node('path',{d:smooth(pts,true),fill:col,stroke:col,'stroke-width':9,'stroke-linecap':'round','stroke-dasharray':'0 7.5'});
   
   
  }else{
   pairs(l.dots,sx,sy).forEach(p=>{
    const el=node('circle',{cx:p[0].toFixed(1),cy:p[1].toFixed(1),r:5,fill:col});
    
    
   });
  }
 });
 xTicks.forEach(t=>{const g=node('line',{x1:sx(t),x2:sx(t),y1:c.top,y2:c.bottom,stroke:'#808080','stroke-opacity':.2,'stroke-width':2});
  
  });
 c.yTicks.forEach(t=>{const g=node('line',{x1:c.left,x2:c.right,y1:sy(t),y2:sy(t),stroke:'#808080','stroke-opacity':.2,'stroke-width':2});
  
  });
 c.contours.forEach(k=>{const el=node('path',{d:smooth(pairs(k,sx,sy),true),fill:'none',stroke:'#808080','stroke-width':2.7});
  
  });
 const tr=c.trajX.map((v,i)=>[sx(v),sy(c.trajY[i])]);
 const line=node('path',{d:smooth(tr,false),fill:'none',stroke:'#c000c0','stroke-width':4});
 
 
 const arrows=(tx,ty,hx,hy,col,name)=>tx.forEach((v,i)=>{const a=node('polygon',{points:arrowPoly(sx(v),sy(ty[i]),sx(hx[i]),sy(hy[i])),fill:col});
  
  });
 arrows(c.greenTX,c.greenTY,c.greenHX,c.greenHY,'#008000',c.prefix+'-velocity-arrow');
 arrows(c.redTX,c.redTY,c.redHX,c.redHY,'#ff0000',c.prefix+'-mean-velocity-arrow');
 arrows(motionTailX,motionTailY,c.motionX,motionTipY,'#ff80ff',c.prefix+'-motion-arrow');
 const st=node('polygon',{points:starPoly(sx(magentaStarX[0]),sy(magentaStarY[0]),11),fill:'#c000c0'});
 
 
 if(c.cyan){const s2=node('polygon',{points:starPoly(sx(cyanStarX[0]),sy(cyanStarY[0]),11),fill:'#00bfbf'});
  
  }
 const frame=node('rect',{x:c.left,y:c.top,width:c.right-c.left,height:c.bottom-c.top,fill:'none',stroke:'#000','stroke-width':2.4});
 
 
 xTicks.forEach(t=>{const m=node('line',{x1:sx(t),x2:sx(t),y1:c.bottom,y2:c.bottom-27,stroke:'#000','stroke-width':2.2});
  
  
  const l=node('text',{x:sx(t),y:c.xLabelY,'text-anchor':'middle','font-size':36.8});
  l.textContent=String(t).replace('-','\u2212');
  
  });
 c.yTicks.forEach(t=>{const m=node('line',{x1:c.left,x2:c.left+28,y1:sy(t),y2:sy(t),stroke:'#000','stroke-width':2.2});
  
  
  const l=node('text',{x:c.left-11,y:sy(t)+13,'text-anchor':'end','font-size':36.8});
  l.textContent=String(t).replace('-','\u2212');
  
  });
 const xl=node('text',{x:c.xTitleX,y:c.xTitleY,'text-anchor':'middle','font-size':41});
 xl.textContent='x* [kpc]';
 
 
 const yl=node('text',{transform:'translate('+c.yTitleX+' '+c.yTitleY+') rotate(-90)','text-anchor':'middle','font-size':41.5});
 yl.textContent=c.yTitle;
 
 
 const b=c.bar, bs=v=>b.zero+v*b.scale;
 const grad=node('rect',{x:b.left,y:b.top-1.5,width:b.right-b.left,height:b.bottom-b.top+2,fill:'url(#puor)'});
 
 
 [[b.left,b.top,b.right,b.top],[b.left,b.bottom,b.right,b.bottom],[b.left,b.top,b.left,b.bottom],[b.right,b.top,b.right,b.bottom]].forEach(s=>{
  const o=node('line',{x1:s[0],y1:s[1],x2:s[2],y2:s[3],stroke:'#000','stroke-width':1.8});
  
  });
 c.barTicks.forEach(t=>{const m=node('line',{x1:bs(t),x2:bs(t),y1:b.bottom,y2:b.bottom+10,stroke:'#000','stroke-width':1.6});
  
  
  const l=node('text',{x:bs(t),y:b.labelY,'text-anchor':'middle','font-size':36.8});
  l.textContent=t.toFixed(1).replace('-','\u2212');
  
  });
 const cl=node('text',{x:b.titleX,y:b.titleY,'text-anchor':'middle','font-size':40});
 
 
 const a1=node('tspan',{'font-style':'italic'},cl);a1.textContent='\u03c1/\u03c1';
 const a2=node('tspan',{'font-style':'italic','font-size':28,dy:6},cl);a2.textContent='mean';
 const a3=node('tspan',{dy:-6},cl);a3.textContent='\u2009\u2212\u20091';
}

drawPanel({prefix:'top',x0:707,xs:4.365,y0:634,ys:5.85,left:161,right:1143.5,top:19.5,bottom:751.5,range:topColorRange,yTicks:topYTicks,xLabelY:789,xTitleX:652,xTitleY:840,yTitleX:52,yTitleY:386,yTitle:'y* [kpc]',cyan:true,
 layers:[{value:-0.9,dots:topDarkDots},{value:-0.72,dots:topMidDots},{value:-0.28,band:topBandB},{value:-0.48,dots:topLavDots},{value:-0.33,dots:topPaleLavDots},{value:-0.24,dots:topLightDots},{value:-0.1,band:topBandC},{value:-0.06,dots:topPaleDots},{value:0.13,band:topRightCoreA},{value:0.15,band:topLeftCoreA},{value:0.3,band:topLeftCoreB},{value:0.33,band:topRightCoreB},{value:0.5,band:topLeftCoreC},{value:0.55,band:topRightCoreC},{value:0.7,band:topLeftCoreD},{value:0.72,band:topRightCoreD},{value:0.85,band:topRightCoreE},{value:0.88,band:topLeftCoreE}],
 contours:[topOuterContour,topMidLeftContour,topInnerLeftContour,topMidRightContour,topInnerRightContour,topSmallContour],trajX:trajectoryX,trajY:trajectoryY,
 greenTX:topGreenTailX,greenTY:topGreenTailY,greenHX:topGreenTipX,greenHY:topGreenTipY,redTX:topRedTailX,redTY:topRedTailY,redHX:topRedTipX,redHY:topRedTipY,motionX:motionTipX,
 barTicks:topColorTicks,bar:{left:193,right:1080,top:865.3,bottom:884.3,zero:655.7,scale:469,labelY:932,titleX:635,titleY:981}});

drawPanel({prefix:'bottom',x0:717,xs:4.263,y0:1367.7,ys:3.88,left:185,right:1165,top:1036.7,bottom:1767,range:bottomColorRange,yTicks:bottomYTicks,xLabelY:1806,xTitleX:675,xTitleY:1855,yTitleX:50,yTitleY:1403,yTitle:'z* [kpc]',cyan:false,
 layers:[{value:-0.88,dots:bottomDarkDots},{value:-0.72,dots:bottomMidDots},{value:-0.52,band:bottomLeftBandA},{value:-0.5,band:bottomRightBandA},{value:-0.32,band:bottomLeftBandB},{value:-0.3,band:bottomRightBandB},{value:-0.12,band:bottomLeftBandC},{value:-0.1,band:bottomRightBandC},{value:0.05,band:bottomLeftBandD},{value:0.2,band:bottomRightBandD},{value:0.25,band:bottomLeftBandE},{value:0.32,band:bottomRightBandE},{value:0.45,band:bottomLeftBandF},{value:0.65,band:bottomLeftBandG},{value:0.9,band:bottomLeftBandH},{value:1.15,band:bottomLeftBandI}],
 contours:[bottomOuterContour,bottomMidLeftContour,bottomInnerLeftContour,bottomMidRightContour,bottomInnerRightContour],trajX:bottomTrajectoryX,trajY:bottomTrajectoryY,
 greenTX:bottomGreenTailX,greenTY:bottomGreenTailY,greenHX:bottomGreenTipX,greenHY:bottomGreenTipY,redTX:bottomRedTailX,redTY:bottomRedTailY,redHX:bottomRedTipX,redHY:bottomRedTipY,motionX:bottomMotionTipX,
 barTicks:bottomColorTicks,bar:{left:216.5,right:1101,top:1880.3,bottom:1899,zero:606,scale:390.6,labelY:1947,titleX:657,titleY:1996}});
</script></body></html>
